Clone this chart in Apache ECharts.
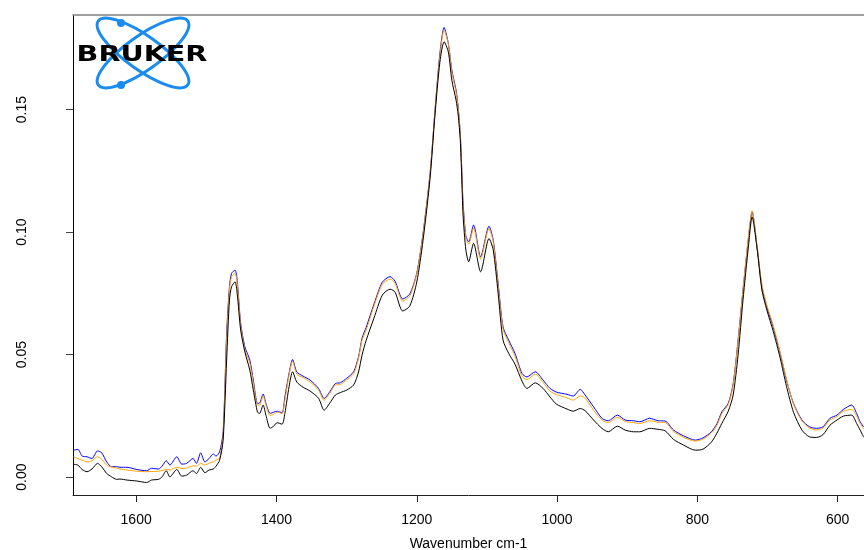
<!DOCTYPE html>
<html>
<head>
<meta charset="utf-8">
<script src="https://cdn.jsdelivr.net/npm/echarts@6/dist/echarts.min.js"></script>
<style>
  html, body { margin: 0; padding: 0; background: #fff; }
  #chart { width: 864px; height: 550px; }
</style>
</head>
<body>
<div id="chart"></div>
<script>
// ====== 数据：波数 (cm-1) 与三条吸光度谱线 ======
const wavenumbers = [
  1689, 1683, 1677, 1670, 1663, 1655, 1649, 1642, 1635, 1628,
  1623, 1613, 1599, 1585, 1578, 1568, 1563, 1557, 1552, 1542,
  1535, 1528, 1519, 1514, 1508, 1502, 1496, 1490, 1486, 1481,
  1476, 1471, 1467, 1464, 1459, 1456, 1451, 1445, 1438, 1433,
  1427, 1424, 1419, 1415, 1409, 1404, 1399, 1392, 1388, 1382,
  1377, 1371, 1362, 1352, 1340, 1332, 1324, 1316, 1309, 1300,
  1290, 1283, 1278, 1272, 1261, 1249, 1238, 1231, 1220, 1210,
  1200, 1191, 1181, 1174, 1167, 1161, 1155, 1150, 1144, 1141,
  1138, 1136, 1134, 1130, 1126, 1119, 1109, 1097, 1091, 1084,
  1077, 1069, 1060, 1050, 1043, 1031, 1020, 1010, 1001, 986,
  977, 967, 960, 948, 936, 927, 914, 903, 891, 882,
  868, 856, 846, 834, 820, 803, 792, 780, 772, 765,
  756, 749, 742, 735, 727, 722, 715, 708, 701, 692,
  682, 673, 663, 651, 640, 630, 621, 611, 601, 592,
  580, 573, 568, 563
];

const blackAbs = [
  0.0052, 0.0049, 0.0031, 0.0022, 0.0033, 0.0056, 0.0042, 0.0015, 0.0001, -0.0009,
  -0.0008, -0.0012, -0.0016, -0.0022, -0.0012, -0.0009, 0.0001, 0.0026, 0.0001, 0.0031,
  0.0004, 0.0008, 0.0026, 0.0015, 0.0040, 0.0018, 0.0029, 0.0033, 0.0045, 0.0069,
  0.0151, 0.0478, 0.0722, 0.0777, 0.0797, 0.0750, 0.0600, 0.0511, 0.0437, 0.0355,
  0.0265, 0.0260, 0.0294, 0.0253, 0.0199, 0.0208, 0.0222, 0.0216, 0.0260, 0.0369,
  0.0430, 0.0388, 0.0367, 0.0351, 0.0322, 0.0273, 0.0302, 0.0335, 0.0345, 0.0355,
  0.0376, 0.0429, 0.0498, 0.0559, 0.0649, 0.0743, 0.0767, 0.0755, 0.0678, 0.0698,
  0.0796, 0.0967, 0.1220, 0.1478, 0.1694, 0.1777, 0.1735, 0.1620, 0.1539, 0.1478,
  0.1376, 0.1233, 0.1069, 0.0927, 0.0879, 0.0954, 0.0838, 0.0974, 0.0927, 0.0750,
  0.0559, 0.0505, 0.0461, 0.0392, 0.0362, 0.0385, 0.0362, 0.0327, 0.0298, 0.0278,
  0.0269, 0.0280, 0.0271, 0.0233, 0.0199, 0.0185, 0.0208, 0.0192, 0.0185, 0.0185,
  0.0199, 0.0195, 0.0189, 0.0154, 0.0131, 0.0110, 0.0114, 0.0143, 0.0180, 0.0220,
  0.0269, 0.0335, 0.0498, 0.0722, 0.0947, 0.1062, 0.0935, 0.0763, 0.0682, 0.0596,
  0.0486, 0.0371, 0.0265, 0.0192, 0.0164, 0.0162, 0.0173, 0.0212, 0.0233, 0.0249,
  0.0253, 0.0219, 0.0192, 0.0163
];

const orangeAbs = [
  0.0083, 0.0076, 0.0069, 0.0062, 0.0067, 0.0083, 0.0073, 0.0049, 0.0041, 0.0037,
  0.0033, 0.0029, 0.0024, 0.0022, 0.0023, 0.0024, 0.0027, 0.0031, 0.0029, 0.0040,
  0.0035, 0.0037, 0.0046, 0.0045, 0.0056, 0.0049, 0.0057, 0.0062, 0.0069, 0.0078,
  0.0171, 0.0559, 0.0763, 0.0818, 0.0831, 0.0792, 0.0620, 0.0522, 0.0465, 0.0384,
  0.0294, 0.0294, 0.0331, 0.0294, 0.0251, 0.0257, 0.0265, 0.0259, 0.0314, 0.0416,
  0.0473, 0.0420, 0.0406, 0.0388, 0.0355, 0.0314, 0.0341, 0.0376, 0.0378, 0.0396,
  0.0422, 0.0484, 0.0559, 0.0600, 0.0698, 0.0788, 0.0808, 0.0792, 0.0718, 0.0739,
  0.0829, 0.0992, 0.1237, 0.1494, 0.1718, 0.1824, 0.1767, 0.1653, 0.1571, 0.1506,
  0.1400, 0.1261, 0.1110, 0.0976, 0.0951, 0.1016, 0.0890, 0.1014, 0.0959, 0.0780,
  0.0604, 0.0549, 0.0494, 0.0412, 0.0398, 0.0420, 0.0386, 0.0351, 0.0337, 0.0324,
  0.0314, 0.0331, 0.0322, 0.0273, 0.0233, 0.0222, 0.0244, 0.0227, 0.0222, 0.0219,
  0.0230, 0.0224, 0.0223, 0.0186, 0.0163, 0.0147, 0.0155, 0.0180, 0.0212, 0.0259,
  0.0296, 0.0376, 0.0555, 0.0763, 0.0988, 0.1087, 0.0947, 0.0784, 0.0702, 0.0620,
  0.0510, 0.0400, 0.0298, 0.0229, 0.0200, 0.0192, 0.0200, 0.0233, 0.0247, 0.0269,
  0.0276, 0.0249, 0.0220, 0.0196
];

const blueAbs = [
  0.0110, 0.0113, 0.0086, 0.0083, 0.0076, 0.0107, 0.0099, 0.0062, 0.0042, 0.0043,
  0.0040, 0.0040, 0.0031, 0.0026, 0.0036, 0.0033, 0.0045, 0.0067, 0.0049, 0.0083,
  0.0053, 0.0056, 0.0076, 0.0056, 0.0099, 0.0062, 0.0076, 0.0094, 0.0086, 0.0103,
  0.0184, 0.0588, 0.0777, 0.0831, 0.0845, 0.0804, 0.0629, 0.0532, 0.0478, 0.0396,
  0.0301, 0.0302, 0.0339, 0.0301, 0.0260, 0.0265, 0.0269, 0.0262, 0.0327, 0.0424,
  0.0480, 0.0429, 0.0412, 0.0396, 0.0362, 0.0321, 0.0348, 0.0382, 0.0385, 0.0403,
  0.0430, 0.0491, 0.0567, 0.0612, 0.0706, 0.0796, 0.0818, 0.0800, 0.0727, 0.0747,
  0.0833, 0.0996, 0.1241, 0.1498, 0.1731, 0.1835, 0.1770, 0.1661, 0.1580, 0.1511,
  0.1404, 0.1267, 0.1122, 0.0984, 0.0960, 0.1029, 0.0899, 0.1024, 0.0967, 0.0791,
  0.0613, 0.0559, 0.0505, 0.0423, 0.0409, 0.0430, 0.0396, 0.0362, 0.0347, 0.0338,
  0.0331, 0.0358, 0.0335, 0.0287, 0.0240, 0.0230, 0.0253, 0.0233, 0.0230, 0.0226,
  0.0240, 0.0230, 0.0229, 0.0192, 0.0169, 0.0151, 0.0160, 0.0185, 0.0219, 0.0267,
  0.0301, 0.0382, 0.0559, 0.0763, 0.0981, 0.1083, 0.0940, 0.0777, 0.0695, 0.0613,
  0.0505, 0.0396, 0.0301, 0.0233, 0.0205, 0.0199, 0.0205, 0.0240, 0.0253, 0.0276,
  0.0294, 0.0260, 0.0226, 0.0205
];

// 刻度
const xTicks = [600, 800, 1000, 1200, 1400, 1600];
const yTicks = [0, 0.05, 0.10, 0.15];

const pairs = (ys) => wavenumbers.map((w, i) => [w, ys[i]]);

const FONT = "Liberation Sans";
const chart = echarts.init(document.getElementById("chart"));

const lineSeries = (name, color, ys) => ({
  name: name,
  type: "line",
  data: pairs(ys),
  showSymbol: false,
  smooth: 0.25,
  lineStyle: { color: color, width: 1 },
  silent: true,
  animation: false
});

chart.setOption({
  backgroundColor: "#fff",
  animation: false,
  grid: { left: 73, right: 0, top: 15, bottom: 55, outerBoundsMode: "none", containLabel: false },
  xAxis: [{
    type: "value",
    inverse: true,
    min: 562.5,
    max: 1690,
    name: "Wavenumber cm-1",
    nameLocation: "middle",
    nameGap: 42,
    nameTextStyle: { fontFamily: FONT, fontSize: 14, color: "#000" },
    axisLine: { show: true, onZero: false, lineStyle: { color: "#222", width: 1 } },
    axisTick: { show: true, length: 7, lineStyle: { color: "#222" }, customValues: xTicks },
    axisLabel: {
      fontFamily: FONT, fontSize: 14, color: "#000", margin: 18,
      customValues: xTicks,
      formatter: (v) => String(v)
    },
    splitLine: { show: false }
  }, {
    // 顶部灰色边框
    type: "value",
    position: "top",
    inverse: true,
    min: 562.5,
    max: 1690,
    axisLine: { show: true, onZero: false, lineStyle: { color: "#808080", width: 1.5 } },
    axisTick: { show: false },
    axisLabel: { show: false },
    splitLine: { show: false }
  }],
  yAxis: {
    type: "value",
    min: -0.0073,
    max: 0.1886,
    axisLine: { show: true, onZero: false, lineStyle: { color: "#000", width: 1 } },
    axisTick: { show: true, length: 7, lineStyle: { color: "#444" }, customValues: yTicks },
    axisLabel: {
      fontFamily: FONT, fontSize: 14, color: "#000", rotate: 90, margin: 44,
      customValues: yTicks,
      formatter: (v) => v.toFixed(2)
    },
    splitLine: { show: false }
  },
  graphic: [
    // ====== BRUKER 标志 ======
    {
      type: "ellipse", z: 100,
      x: 143, y: 53, rotation: 0.62,
      shape: { cx: 0, cy: 0, rx: 55, ry: 17 },
      style: { fill: "none", stroke: "#1a8cf0", lineWidth: 3 }
    },
    {
      type: "ellipse", z: 100,
      x: 143, y: 53, rotation: -0.62,
      shape: { cx: 0, cy: 0, rx: 55, ry: 17 },
      style: { fill: "none", stroke: "#1a8cf0", lineWidth: 3 }
    },
    { type: "circle", z: 101, shape: { cx: 121, cy: 23, r: 4 }, style: { fill: "#1a8cf0" } },
    { type: "circle", z: 101, shape: { cx: 121, cy: 85, r: 4 }, style: { fill: "#1a8cf0" } },
    {
      type: "text", z: 102,
      x: 142, y: 55, scaleX: 1.3,
      style: {
        text: "BRUKER",
        font: "bold 22px 'DejaVu Sans'",
        fill: "#000",
        align: "center",
        verticalAlign: "middle"
      }
    }
  ],
  series: [
    lineSeries("blue", "#0000ff", blueAbs),
    lineSeries("orange", "#ffa500", orangeAbs),
    lineSeries("black", "#000000", blackAbs)
  ]
});
</script>
</body>
</html>
